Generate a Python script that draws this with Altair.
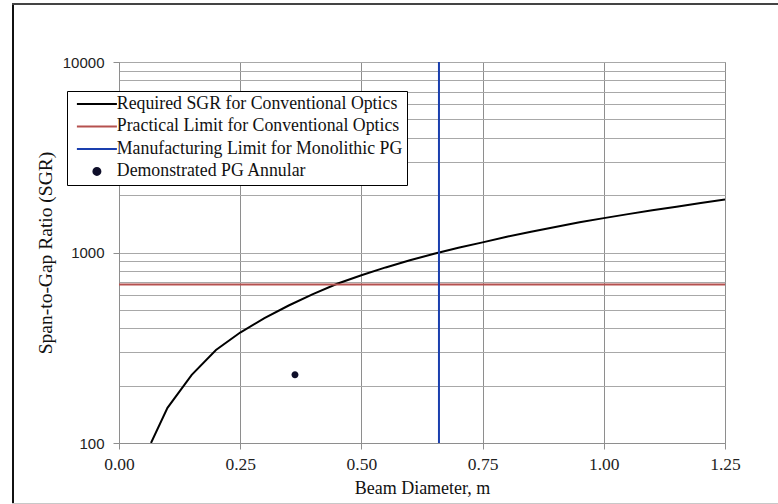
import altair as alt
import pandas as pd

# --- data ---
beam_d = [0.066, 0.10, 0.15, 0.20, 0.25, 0.30, 0.35, 0.40, 0.45, 0.50, 0.55, 0.60,
          0.65, 0.70, 0.75, 0.80, 0.85, 0.90, 0.95, 1.00, 1.05, 1.10, 1.15, 1.20, 1.25]
sgr_req = [100, 153, 228, 308, 380, 452, 527, 605, 685, 760, 835, 910,
           985, 1060, 1130, 1210, 1285, 1360, 1440, 1515, 1590, 1665, 1740, 1820, 1900]
practical_limit = [680]
manufacturing_limit = [0.66]
demo_x = [0.363]
demo_y = [228]

series_names = ["Required SGR for Conventional Optics",
                "Practical Limit for Conventional Optics",
                "Manufacturing Limit for Monolithic PG",
                "Demonstrated PG Annular"]
series_colors = ["#000000", "#b5514f", "#1a3fae", "#0f0f2a"]
# symbol paths in unit coordinates (symbol size 100 -> 1 unit = 5 px)
LINE = "M-4,0H4"
DOT = "M-0.7,0A0.7,0.7,0,1,1,0.7,0A0.7,0.7,0,1,1,-0.7,0Z"
series_shapes = [LINE, LINE, LINE, DOT]

x_ticks = [0.0, 0.25, 0.5, 0.75, 1.0, 1.25]
y_ticks = [100, 200, 300, 400, 500, 600, 700, 800, 900,
           1000, 2000, 3000, 4000, 5000, 6000, 7000, 8000, 9000, 10000]
y_major = [100, 1000, 10000]

SERIF = "Liberation Serif"
SANS = "Liberation Sans"

curve_df = pd.DataFrame({"d": beam_d, "sgr": sgr_req, "series": series_names[0]})
red_df = pd.DataFrame({"sgr": practical_limit, "series": series_names[1]})
blue_df = pd.DataFrame({"d": manufacturing_limit, "series": series_names[2]})
pt_df = pd.DataFrame({"d": demo_x, "sgr": demo_y, "series": series_names[3]})

major_test = "indexof([" + ",".join(str(v) for v in y_major) + "], datum.value) >= 0"

x_scale = alt.Scale(domain=[0, 1.25], nice=False, zero=False)
y_scale = alt.Scale(type="log", domain=[100, 10000], nice=False)

legend = alt.Legend(
    title=None, orient="none", legendX=-52, legendY=29,
    strokeColor="#000000", fillColor="#ffffff", padding=4,
    symbolSize=100, symbolStrokeWidth=2, symbolOffset=17, symbolOpacity=1,
    labelFont=SERIF, labelFontSize=17.8, labelColor="#111111", labelOffset=11,
    rowPadding=3.5, labelLimit=400,
)
color_enc = alt.Color("series:N", scale=alt.Scale(domain=series_names, range=series_colors),
                      legend=legend)
shape_enc = alt.Shape("series:N", scale=alt.Scale(domain=series_names, range=series_shapes),
                      legend=legend)

x_axis = alt.Axis(values=x_ticks, format=".2f", title="Beam Diameter, m",
                  grid=True, gridColor="#8e8e8e", gridWidth=1, labelFlush=False,
                  tickSize=6, tickColor="#8e8e8e", domainColor="#8e8e8e",
                  labelFont=SERIF, labelFontSize=17.5, labelColor="#222222", labelPadding=6,
                  titleFont=SERIF, titleFontSize=18, titleFontWeight="normal",
                  titleColor="#111111", titlePadding=7)
y_axis = alt.Axis(values=y_ticks, format="d", title="Span-to-Gap Ratio (SGR)",
                  labelExpr=major_test + " ? datum.label : ''",
                  grid=True, gridColor="#a8a8a8", gridWidth=1,
                  tickSize=6, tickColor="#8e8e8e", domainColor="#8e8e8e",
                  tickOpacity={"condition": {"test": major_test, "value": 1}, "value": 0},
                  labelFont=SANS, labelFontSize=15, labelColor="#222222", labelPadding=9,
                  titleFont=SERIF, titleFontSize=19.5, titleFontWeight="normal",
                  titleColor="#111111", titlePadding=7)

curve = alt.Chart(curve_df).mark_line(strokeWidth=2, clip=True).encode(
    x=alt.X("d:Q", scale=x_scale, axis=x_axis),
    y=alt.Y("sgr:Q", scale=y_scale, axis=y_axis),
    color=color_enc,
)
red = alt.Chart(red_df).mark_rule(strokeWidth=2).encode(
    y=alt.Y("sgr:Q", scale=y_scale),
    color=color_enc,
)
blue = alt.Chart(blue_df).mark_rule(strokeWidth=2).encode(
    x=alt.X("d:Q", scale=x_scale),
    color=color_enc,
)
pts = alt.Chart(pt_df).mark_point(filled=True, opacity=1, size=100, strokeWidth=1).encode(
    x=alt.X("d:Q", scale=x_scale),
    y=alt.Y("sgr:Q", scale=y_scale),
    color=color_enc,
    shape=shape_enc,
)

# outer frame of the figure (decoration)
frame_df = pd.DataFrame({"k": [0]})
frame_left = alt.Chart(frame_df).mark_rule(color="#111111", strokeWidth=2).encode(
    x=alt.value(-106), y=alt.value(-59), y2=alt.value(442))
frame_top = alt.Chart(frame_df).mark_rule(color="#444444", strokeWidth=2).encode(
    x=alt.value(-107), x2=alt.value(660), y=alt.value(-58))
frame_bottom = alt.Chart(frame_df).mark_rule(color="#c8c8c8", strokeWidth=1).encode(
    x=alt.value(-107), x2=alt.value(660), y=alt.value(441.5))

chart = alt.layer(curve, red, blue, pts, frame_left, frame_top, frame_bottom).properties(
    width=606, height=381,
    autosize=alt.AutoSizeParams(type="none"),
    padding={"left": 119, "top": 62, "right": 53, "bottom": 61},
    background="#ffffff",
).configure_view(stroke="#8e8e8e", strokeWidth=1)

chart.save("out.html", embed_options={"renderer": "svg", "actions": False})
